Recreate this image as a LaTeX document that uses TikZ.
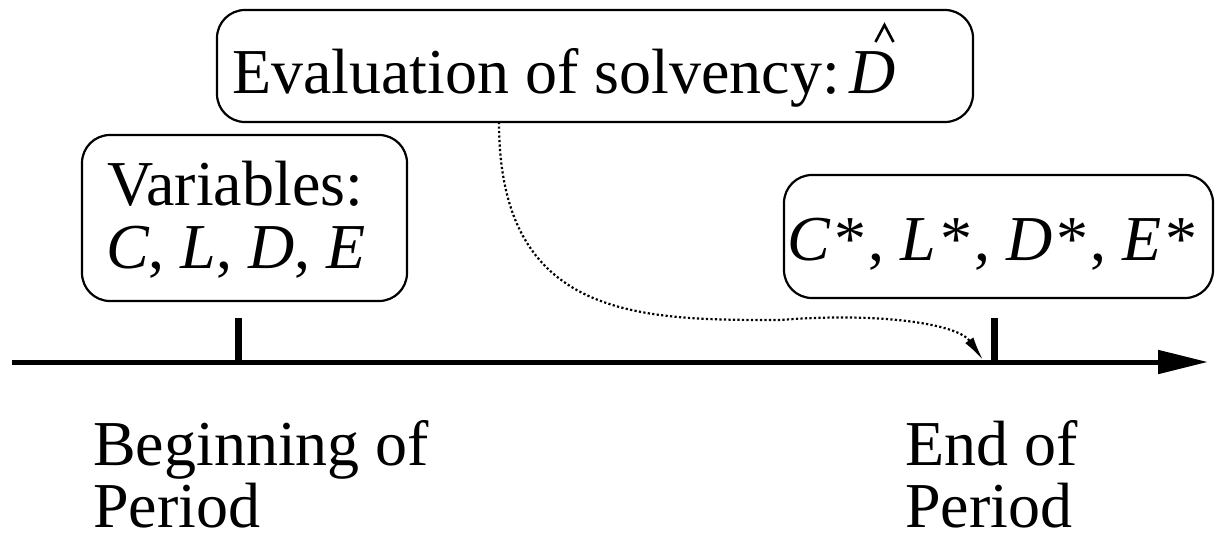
\documentclass[tikz,border=0pt]{standalone}
\usepackage{fontspec}
\setmainfont{Liberation Serif}
\usetikzlibrary{arrows.meta,calc}
\newcommand{\starred}[1]{\textit{#1}\kern4pt*\kern2pt}
\begin{document}
\begin{tikzpicture}[x=1pt,y=-1pt,
  every node/.style={inner sep=0pt, font=\fontsize{64}{64}\selectfont},
  panel/.style={draw, line width=2.2pt, rounded corners=28pt},
  label/.style={anchor=base west},
  timeline/.style={line width=5pt, -{Triangle[length=50pt,width=23pt]}},
  tickmark/.style={line width=7pt},
  flow/.style={line width=2.2pt, dash pattern=on 2.2pt off 2.3pt,
    -{Latex[length=24pt,width=10pt]}},
  hatmark/.style={line width=2.6pt, line join=miter}]
  \useasboundingbox (0,0) rectangle (1221,539);

  % rounded panels
  \node[panel, minimum width=756pt, minimum height=112pt] (eval) at (595,66) {};
  \node[panel, minimum width=325pt, minimum height=166pt] (vars) at (244.5,218) {};
  \node[panel, minimum width=429pt, minimum height=123pt] (final) at (998.5,236.5) {};

  % panel texts
  \node[label] (evaltext) at (232,93) {Evaluation of solvency:\kern9pt\textit{D}};
  \draw[hatmark] ($(evaltext.base east)+(-20,-51)$) -- ($(evaltext.base east)+(-11,-68)$)
    -- ($(evaltext.base east)+(-2,-51)$);
  \node[label] (varsA) at (107,205) {Variables:};
  \node[label] (varsB) at (106,268) {\textit{C}, \textit{L}, \textit{D}, \textit{E}};
  \node[label] (finaltext) at (787,260) {\starred{C}, \starred{L}, \starred{D}, \starred{E}};

  % time axis with its two marks
  \coordinate (axstart) at (12,362);
  \coordinate (axend) at (1208,362);
  \coordinate (t1) at (238,362);
  \coordinate (t1top) at (238,318);
  \coordinate (t2) at (994,362);
  \coordinate (t2top) at (994,318);
  \draw[timeline] (axstart) -- (axend);
  \draw[tickmark] (t1top) -- (t1);
  \draw[tickmark] (t2top) -- (t2);

  % labels under the axis
  \node[label] (beginA) at (93,465) {Beginning of};
  \node[label] (beginB) at (93,527) {Period};
  \node[label] (endA) at (905,465) {End of};
  \node[label] (endB) at (905,527) {Period};

  % dotted connector from the evaluation panel to the end of the period
  \coordinate (src) at (499,122);
  \coordinate (dst) at (983,360);
  \draw[flow] (src) .. controls (499,320) and (640,320) .. (780,320)
    .. controls (880,312) and (958,324) .. (dst);
\end{tikzpicture}
\end{document}
